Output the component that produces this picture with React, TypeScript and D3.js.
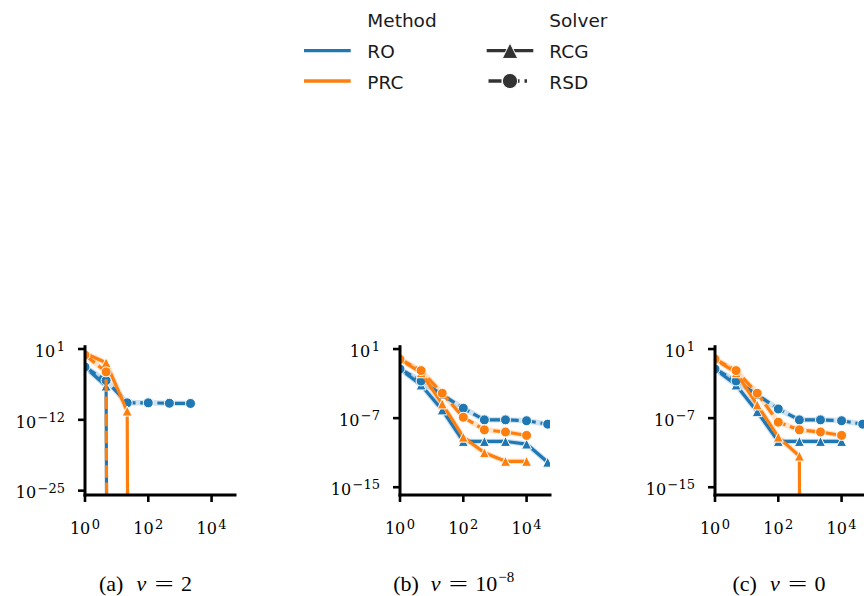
import React from "react";
import * as d3 from "d3";

// x grid: iteration counts (log-spaced)
const X_VALUES = [1, 4.6416, 21.544, 100, 464.16, 2154.4, 10000, 46416];
const METHODS = ["RO", "PRC"];
const SOLVERS = ["RCG", "RSD"];
const X_TICKS = [1, 100, 10000];

// (a) nu = 2   (0 = reached exactly zero, falls off the log axis)
const NU2_RO_RCG = [5.0e-3, 1.6e-6, 0];
const NU2_RO_RSD = [5.0e-3, 1.6e-5, 1.3e-9, 1.3e-9, 1.1e-9, 1.0e-9];
const NU2_PRC_RCG = [1.6, 3.0e-2, 4.0e-11, 0];
const NU2_PRC_RSD = [0.8, 6.3e-4, 0];
const Y_TICKS_A = [10, 1e-12, 1e-25];

// (b) nu = 1e-8
const NU8_RO_RCG = [4.9e-2, 6.9e-4, 8.9e-7, 2.0e-10, 2.0e-10, 2.0e-10, 1.0e-10, 7.9e-13];
const NU8_RO_RSD = [4.9e-2, 2.0e-3, 5.0e-5, 1.4e-6, 6.3e-8, 6.3e-8, 5.0e-8, 2.0e-8];
const NU8_PRC_RCG = [0.65, 1.8e-2, 4.4e-6, 6.3e-10, 1.0e-11, 1.0e-12, 1.0e-12];
const NU8_PRC_RSD = [0.65, 3.2e-2, 7.6e-5, 1.26e-7, 4.4e-9, 2.5e-9, 1.0e-9];
const Y_TICKS_B = [10, 1e-7, 1e-15];

// (c) nu = 0
const NU0_RO_RCG = [4.9e-2, 6.9e-4, 5.6e-7, 2.0e-10, 2.0e-10, 2.0e-10, 2.0e-10];
const NU0_RO_RSD = [4.9e-2, 2.0e-3, 5.0e-5, 1.15e-6, 6.3e-8, 6.3e-8, 5.0e-8, 2.0e-8];
const NU0_PRC_RCG = [0.69, 1.8e-2, 3.4e-6, 6.3e-10, 4.0e-12, 0];
const NU0_PRC_RSD = [0.69, 3.2e-2, 7.6e-5, 3.4e-8, 4.4e-9, 2.5e-9, 1.0e-9];
const Y_TICKS_C = [10, 1e-7, 1e-15];

const CAPTION_LABELS = ["(a)", "(b)", "(c)"];
const CAPTION_VALUES = ["2", "10", "0"];
const CAPTION_SUPS = ["", "−8", ""];

const COLORS: Record<string, string> = { RO: "#1f77b4", PRC: "#ff7f0e" };
const LEGEND_GRAY = "#333333";

const TOP = 346.7;
const BOTTOM = 495;
const WIDTH = 150;
const X_MAX = Math.pow(10, 4.74);

const SERIF = "'Liberation Serif', 'DejaVu Serif', serif";
const TICK_SERIF = "'DejaVu Serif', 'Liberation Serif', serif";
const SANS = "'DejaVu Sans', sans-serif";

type Panel = {
  id: string;
  left: number;
  yMin: number;
  yMax: number;
  yTicks: number[];
  series: number[][];
  capStart: number;
};

const PANELS: Panel[] = [
  {
    id: "a",
    left: 85,
    yMin: Math.pow(10, -25.8),
    yMax: Math.pow(10, 1.42),
    yTicks: Y_TICKS_A,
    series: [NU2_RO_RCG, NU2_RO_RSD, NU2_PRC_RCG, NU2_PRC_RSD],
    capStart: 99,
  },
  {
    id: "b",
    left: 400,
    yMin: Math.pow(10, -15.9),
    yMax: Math.pow(10, 1.27),
    yTicks: Y_TICKS_B,
    series: [NU8_RO_RCG, NU8_RO_RSD, NU8_PRC_RCG, NU8_PRC_RSD],
    capStart: 393.3,
  },
  {
    id: "c",
    left: 715,
    yMin: Math.pow(10, -15.9),
    yMax: Math.pow(10, 1.27),
    yTicks: Y_TICKS_C,
    series: [NU0_RO_RCG, NU0_RO_RSD, NU0_PRC_RCG, NU0_PRC_RSD],
    capStart: 732.5,
  },
];

// series order inside each panel: RO-RCG, RO-RSD, PRC-RCG, PRC-RSD
const SERIES_KEYS = METHODS.flatMap((m) => SOLVERS.map((s) => ({ method: m, solver: s })));

function trianglePath(cx: number, cy: number, m: number) {
  const h = m / 2;
  return `M${cx},${cy - h}L${cx + h},${cy + h}L${cx - h},${cy + h}Z`;
}

function expLabel(t: number) {
  return String(Math.round(Math.log10(t))).replace("-", "−");
}

function Caption({ i, start }: { i: number; start: number }) {
  const base = 591;
  return (
    <g fontFamily={SERIF} fontSize={22} fill="#000">
      <text x={start} y={base}>{CAPTION_LABELS[i]}</text>
      <text x={start + 37.5} y={base} fontStyle="italic">ν</text>
      <text
        x={0}
        y={0}
        textAnchor="middle"
        transform={`translate(${start + 65}, ${base}) scale(1.55, 1)`}
      >
        =
      </text>
      <text x={start + 82} y={base}>
        {CAPTION_VALUES[i]}
        {CAPTION_SUPS[i] ? (
          <tspan dx={1} dy={-9} fontSize={15}>
            {CAPTION_SUPS[i]}
          </tspan>
        ) : null}
      </text>
    </g>
  );
}

function PanelView({ p, idx }: { p: Panel; idx: number }) {
  const x = d3.scaleLog().domain([1, X_MAX]).range([p.left, p.left + WIDTH]);
  const y = d3.scaleLog().domain([p.yMin, p.yMax]).range([BOTTOM, TOP]);
  const yLin = d3
    .scaleLinear()
    .domain([Math.log10(p.yMin), Math.log10(p.yMax)])
    .range([BOTTOM, TOP]);
  const yPos = (v: number) => (v > 0 ? y(v) : yLin(-1000));
  const line = d3.line<[number, number]>();
  const clipId = `clip-${p.id}`;

  const built = p.series.map((vals, i) => {
    const key = SERIES_KEYS[i];
    const pts: [number, number][] = vals.map((v, j) => [x(X_VALUES[j]), yPos(v)]);
    const posPts = pts.filter((_, j) => vals[j] > 0);
    return { key, vals, pts, posPts };
  });

  return (
    <g>
      <defs>
        <clipPath id={clipId}>
          <rect x={p.left} y={TOP} width={WIDTH} height={BOTTOM - TOP} />
        </clipPath>
      </defs>
      <g clipPath={`url(#${clipId})`}>
        {built.map((b, i) => (
          <path
            key={`band${i}`}
            d={line(b.posPts) || ""}
            fill="none"
            stroke={COLORS[b.key.method]}
            strokeOpacity={0.22}
            strokeWidth={5.5}
            strokeLinejoin="round"
          />
        ))}
        {built.map((b, i) => {
          const c = COLORS[b.key.method];
          const dashed = b.key.solver === "RSD";
          return (
            <g key={`s${i}`}>
              <path
                d={line(b.pts) || ""}
                fill="none"
                stroke={c}
                strokeWidth={3.2}
                strokeDasharray={dashed ? "12.5 4.7" : undefined}
                strokeLinejoin="round"
                strokeLinecap={dashed ? "butt" : "square"}
              />
              {b.vals.map((v, j) =>
                v > 0 ? (
                  dashed ? (
                    <circle
                      key={j}
                      cx={x(X_VALUES[j])}
                      cy={y(v)}
                      r={5}
                      fill={c}
                      stroke="#ffffff"
                      strokeWidth={1}
                    />
                  ) : (
                    <path
                      key={j}
                      d={trianglePath(x(X_VALUES[j]), y(v), 10)}
                      fill={c}
                      stroke="#ffffff"
                      strokeWidth={1}
                      strokeLinejoin="miter"
                    />
                  )
                ) : null
              )}
            </g>
          );
        })}
      </g>
      {/* spines */}
      <line x1={p.left} x2={p.left} y1={TOP} y2={BOTTOM} stroke="#000" strokeWidth={3} strokeLinecap="square" />
      <line x1={p.left} x2={p.left + WIDTH} y1={BOTTOM} y2={BOTTOM} stroke="#000" strokeWidth={3} strokeLinecap="square" />
      {/* y ticks */}
      {p.yTicks.map((t) => (
        <g key={`yt${t}`}>
          <line x1={p.left - 7} x2={p.left} y1={y(t)} y2={y(t)} stroke="#000" strokeWidth={2.6} />
          <text
            x={p.left - 20}
            y={y(t) + 7.7}
            textAnchor="end"
            fontFamily={TICK_SERIF}
            fontSize={16}
            fill="#000"
          >
            10
            <tspan dy={-5.5} dx={1.5} fontSize={13}>
              {expLabel(t)}
            </tspan>
          </text>
        </g>
      ))}
      {/* x ticks */}
      {X_TICKS.map((t) => (
        <g key={`xt${t}`}>
          <line x1={x(t)} x2={x(t)} y1={BOTTOM} y2={BOTTOM + 7} stroke="#000" strokeWidth={2.6} />
          <text x={x(t)} y={534.3} textAnchor="middle" fontFamily={TICK_SERIF} fontSize={16} fill="#000">
            10
            <tspan dy={-5.5} dx={1.5} fontSize={13}>
              {expLabel(t)}
            </tspan>
          </text>
        </g>
      ))}
      <Caption i={idx} start={p.capStart} />
    </g>
  );
}

function Legend() {
  return (
    <g fontFamily={SANS} fontSize={18.5} fill="#1a1a1a">
      <text x={367.3} y={26.7}>Method</text>
      <line x1={304} x2={350.7} y1={50.7} y2={50.7} stroke={COLORS.RO} strokeWidth={3.3} />
      <text x={367.3} y={58.3}>{METHODS[0]}</text>
      <line x1={304} x2={350.7} y1={81} y2={81} stroke={COLORS.PRC} strokeWidth={3.3} />
      <text x={367.3} y={89.3}>{METHODS[1]}</text>

      <text x={549.3} y={26.7}>Solver</text>
      <line x1={486.7} x2={533.3} y1={50.7} y2={50.7} stroke={LEGEND_GRAY} strokeWidth={3.3} />
      <path d={trianglePath(510, 50.7, 15.5)} fill={LEGEND_GRAY} stroke="#ffffff" strokeWidth={1} />
      <text x={549.3} y={58.3}>{SOLVERS[0]}</text>
      <line x1={488.5} x2={527} y1={81} y2={81} stroke={LEGEND_GRAY} strokeWidth={3.3} strokeDasharray="13 5" />
      <circle cx={510} cy={81} r={7.6} fill={LEGEND_GRAY} stroke="#ffffff" strokeWidth={1} />
      <text x={549.3} y={89.3}>{SOLVERS[1]}</text>
    </g>
  );
}

export default function App() {
  return (
    <svg
      width={864}
      height={596}
      viewBox="0 0 864 596"
      style={{ position: "absolute", left: 0, top: 0, background: "#fff" }}
    >
      <rect x={0} y={0} width={864} height={596} fill="#fff" />
      <Legend />
      {PANELS.map((p, i) => (
        <PanelView key={p.id} p={p} idx={i} />
      ))}
    </svg>
  );
}
